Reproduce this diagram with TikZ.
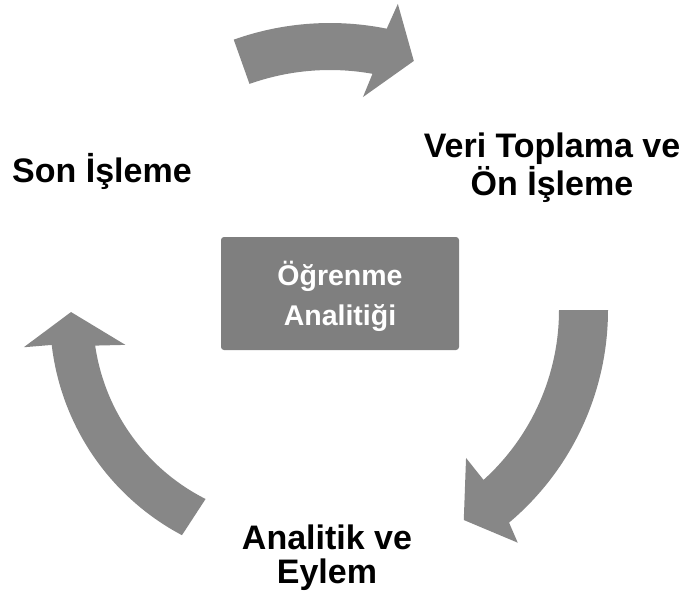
\documentclass[tikz,border=0pt]{standalone}
\usepackage{fontspec}
\setmainfont{Liberation Sans}
\begin{document}
\begin{tikzpicture}[x=1pt,y=1pt,
  arrowfill/.style={fill=arrowgray},
  steplabel/.style={font=\bfseries\fontsize{34}{34}\selectfont, text=black, align=center, inner sep=0pt, anchor=base},
  centerbox/.style={fill=boxgray, rounded corners=3pt, minimum width=238pt, minimum height=113pt, inner sep=0pt},
  centertext/.style={font=\bfseries\fontsize{28.5}{40}\selectfont, text=white, align=center, inner sep=0pt, anchor=base}]
\definecolor{arrowgray}{HTML}{878787}
\definecolor{boxgray}{HTML}{7F7F7F}
\useasboundingbox (0,0) rectangle (686,-606);
% central box
\node[centerbox] (core) at (340,-293.5) {};
\node[centertext] (coretxt) at (340,-325) {Öğrenme\\Analitiği};
% labels
\node[steplabel] (post) at (102,-182) {Son İşleme};
\node[steplabel] (collect) at (552,-195) {Veri Toplama ve\\Ön İşleme};
\node[steplabel] (act) at (327,-583) {Analitik ve\\Eylem};
% top arrow
\begin{scope}[shift={(330,-310)}]
\fill[arrowfill] (109.6:240pt) arc[start angle=109.6, end angle=79.8, radius=240pt]
  -- (81.2:215.5pt) -- (71.4:262.8pt) -- (77.5:313.5pt) -- (78.6:287pt)
  arc[start angle=78.6, end angle=109.6, radius=287pt] -- cycle;
% right arrow
\fill[arrowfill] (0:229pt) arc[start angle=0, end angle=-47.9, radius=229pt]
  -- (-47.4:201pt) -- (-57.5:249pt) -- (-51.1:299pt) -- (-49.9:278pt)
  arc[start angle=-49.9, end angle=0, radius=278pt] -- cycle;
\end{scope}
% left arrow
\begin{scope}[shift={(298,-316)}]
\fill[arrowfill] (243.2:205pt) arc[start angle=243.2, end angle=188.3, radius=205pt]
  -- (189.5:175pt) -- (179:227pt) -- (186.5:276pt) -- (186.7:248pt)
  arc[start angle=186.7, end angle=242.1, radius=248pt] -- cycle;
\end{scope}
\end{tikzpicture}
\end{document}
